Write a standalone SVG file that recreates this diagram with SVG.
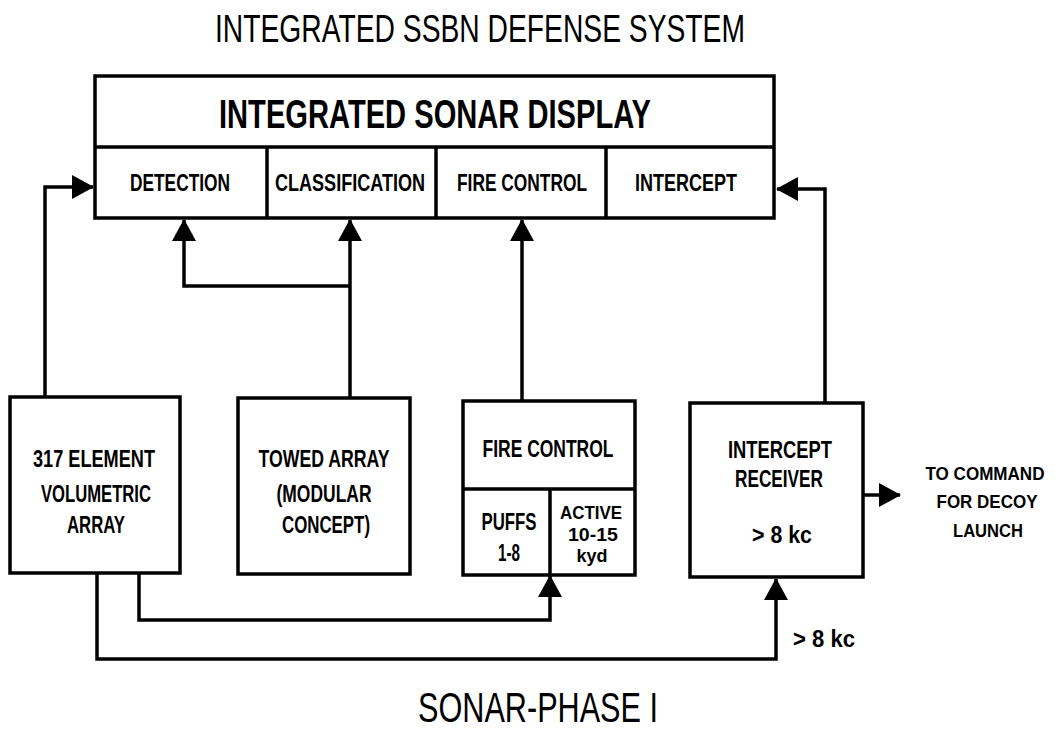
<svg xmlns="http://www.w3.org/2000/svg" width="1055" height="732" viewBox="0 0 1055 732">
<style>
.box{fill:#fff;stroke:#000;stroke-width:3.5}
.div{fill:none;stroke:#000;stroke-width:3.5}
.conn{fill:none;stroke:#000;stroke-width:3.5;marker-end:url(#ah)}
text{font-family:"Liberation Sans","DejaVu Sans",sans-serif;fill:#000;text-anchor:middle}
.t{font-weight:bold;font-size:23px}
.s{font-weight:bold;font-size:19px}
.c{font-weight:bold;font-size:18px}
.big{font-weight:bold;font-size:40px}
</style>
<defs>
<marker id="ah" viewBox="0 0 22 24" refX="21" refY="12" markerWidth="22" markerHeight="24" markerUnits="userSpaceOnUse" orient="auto">
<path d="M0,0 L22,12 L0,24 Z" fill="#000"/>
</marker>
</defs>
<rect width="1055" height="732" fill="#fff"/>
<text id="title" x="480" y="42" textLength="530" lengthAdjust="spacingAndGlyphs" style="font-size:38px">INTEGRATED SSBN DEFENSE SYSTEM</text>

<g id="connectors">
<path class="conn" d="M45,397 V187 H93"/>
<path class="conn" d="M350,398 V220"/>
<path class="conn" d="M350,286 H184 V220"/>
<path class="conn" d="M522,401 V220"/>
<path class="conn" d="M825,403 V189 H777"/>
<path class="conn" d="M139,574 V620 H550 V576"/>
<path class="conn" d="M97,574 V659 H776 V579"/>
<path class="conn" d="M864,495 H900"/>
</g>

<g id="sonar-display">
<rect class="box" x="95" y="76" width="679" height="142"/>
<path class="div" d="M95,147 H774 M267,147 V218 M436,147 V218 M606,147 V218"/>
<text class="big" x="435" y="128" textLength="432" lengthAdjust="spacingAndGlyphs">INTEGRATED SONAR DISPLAY</text>
<text class="t" x="180" y="191" textLength="100" lengthAdjust="spacingAndGlyphs">DETECTION</text>
<text class="t" x="350" y="191" textLength="150" lengthAdjust="spacingAndGlyphs">CLASSIFICATION</text>
<text class="t" x="522" y="191" textLength="130" lengthAdjust="spacingAndGlyphs">FIRE CONTROL</text>
<text class="t" x="686" y="191" textLength="102" lengthAdjust="spacingAndGlyphs">INTERCEPT</text>
</g>

<g id="volumetric-array">
<rect class="box" x="10" y="397" width="170" height="176"/>
<text class="t" x="94" y="467" textLength="122" lengthAdjust="spacingAndGlyphs">317 ELEMENT</text>
<text class="t" x="96" y="502" textLength="110" lengthAdjust="spacingAndGlyphs">VOLUMETRIC</text>
<text class="t" x="96" y="533" textLength="58" lengthAdjust="spacingAndGlyphs">ARRAY</text>
</g>

<g id="towed-array">
<rect class="box" x="238" y="398" width="172" height="176"/>
<text class="t" x="324" y="467" textLength="131" lengthAdjust="spacingAndGlyphs">TOWED ARRAY</text>
<text class="t" x="324" y="502" textLength="95" lengthAdjust="spacingAndGlyphs">(MODULAR</text>
<text class="t" x="326" y="533" textLength="88" lengthAdjust="spacingAndGlyphs">CONCEPT)</text>
</g>

<g id="fire-control">
<rect class="box" x="463" y="401" width="172" height="174"/>
<path class="div" d="M463,489 H635 M550,489 V575"/>
<text class="t" x="548" y="457" textLength="131" lengthAdjust="spacingAndGlyphs">FIRE CONTROL</text>
<text class="t" x="509" y="530" textLength="55" lengthAdjust="spacingAndGlyphs">PUFFS</text>
<text class="t" x="509" y="561" textLength="22" lengthAdjust="spacingAndGlyphs">1-8</text>
<text class="s" x="591" y="519" textLength="62" lengthAdjust="spacingAndGlyphs">ACTIVE</text>
<text class="s" x="593" y="541" textLength="50" lengthAdjust="spacingAndGlyphs">10-15</text>
<text class="s" x="592" y="562" textLength="31" lengthAdjust="spacingAndGlyphs">kyd</text>
</g>

<g id="intercept-receiver">
<rect class="box" x="690" y="403" width="173" height="174"/>
<text class="t" x="780" y="458" textLength="104" lengthAdjust="spacingAndGlyphs">INTERCEPT</text>
<text class="t" x="779" y="487" textLength="88" lengthAdjust="spacingAndGlyphs">RECEIVER</text>
<text class="t" x="782" y="543" textLength="60" lengthAdjust="spacingAndGlyphs">&gt; 8 kc</text>
</g>

<g id="command">
<text class="c" x="985" y="480" textLength="119" lengthAdjust="spacingAndGlyphs">TO COMMAND</text>
<text class="c" x="987" y="508" textLength="101" lengthAdjust="spacingAndGlyphs">FOR DECOY</text>
<text class="c" x="988" y="537" textLength="70" lengthAdjust="spacingAndGlyphs">LAUNCH</text>
</g>

<text id="label-8kc" class="t" x="824" y="647" textLength="62" lengthAdjust="spacingAndGlyphs">&gt; 8 kc</text>
<text id="footer" x="538" y="722" textLength="240" lengthAdjust="spacingAndGlyphs" style="font-size:42px">SONAR-PHASE I</text>
</svg>
